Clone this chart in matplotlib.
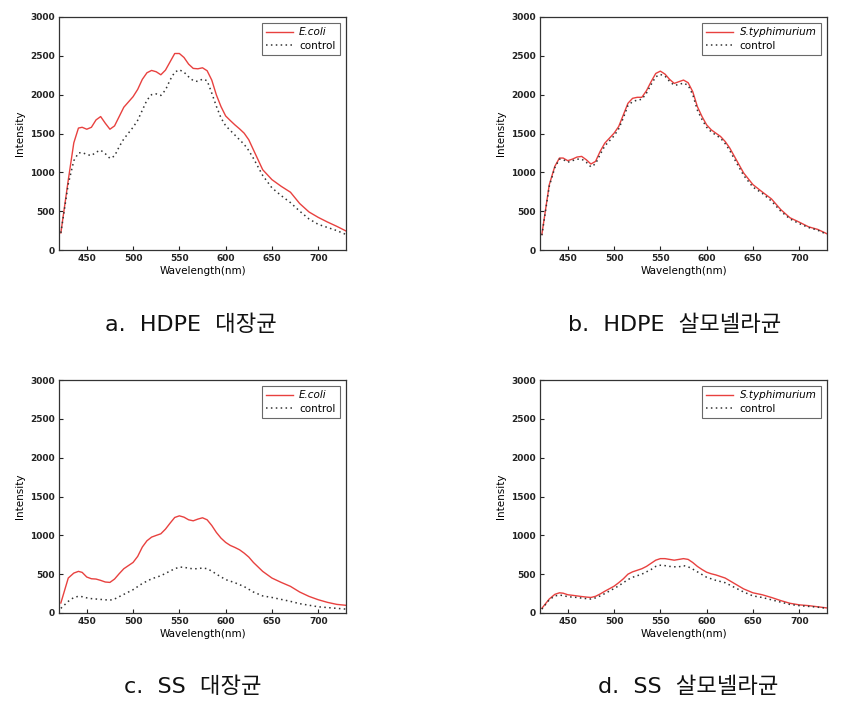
"""Four-panel fluorescence spectra: HDPE / SS surfaces with E.coli and S.typhimurium
against the uninoculated control."""
import matplotlib
matplotlib.use("Agg")
import matplotlib.pyplot as plt

# common wavelength grid (nm) the curves were read at
wavelength = [422, 430, 436, 441, 445, 450, 455, 460, 465, 470, 475, 480, 485, 490,
              500, 505, 510, 515, 520, 525, 530, 535, 540, 545, 550, 555, 560, 565,
              570, 575, 580, 585, 590, 595, 600, 605, 610, 615, 620, 625, 630, 640,
              650, 660, 670, 680, 690, 700, 710, 720, 730]

# a. HDPE, E.coli
hdpe_ecoli = [220, 900, 1380, 1570, 1580, 1555, 1580, 1675, 1718, 1632, 1555, 1598, 1718, 1838,
              1974, 2068, 2197, 2282, 2312, 2295, 2256, 2316, 2423, 2530, 2530, 2479, 2393, 2338,
              2333, 2346, 2308, 2188, 1996, 1846, 1726, 1667, 1611, 1560, 1504, 1419, 1290, 1034,
              906, 820, 744, 598, 490, 420, 360, 305, 245]
hdpe_ecoli_ctrl = [220, 850, 1150, 1250, 1255, 1230, 1215, 1260, 1285, 1240, 1180, 1210, 1330, 1430,
                   1580, 1670, 1800, 1930, 2000, 2010, 1990, 2060, 2190, 2290, 2320, 2290, 2230, 2180,
                   2170, 2200, 2180, 2020, 1850, 1700, 1600, 1540, 1480, 1420, 1360, 1280, 1180, 960,
                   800, 700, 610, 500, 400, 330, 290, 250, 200]

# b. HDPE, S.typhimurium
hdpe_styph = [200, 840, 1077, 1184, 1184, 1150, 1170, 1197, 1205, 1162, 1107, 1141, 1270, 1376,
              1504, 1590, 1739, 1889, 1953, 1966, 1966, 2051, 2167, 2273, 2303, 2265, 2197, 2145,
              2167, 2188, 2154, 2038, 1846, 1718, 1611, 1547, 1504, 1462, 1397, 1312, 1205, 991,
              842, 748, 658, 521, 415, 359, 299, 265, 209]
hdpe_styph_ctrl = [190, 820, 1060, 1170, 1165, 1130, 1150, 1170, 1170, 1130, 1070, 1110, 1230, 1340,
                   1470, 1560, 1700, 1860, 1910, 1930, 1940, 2020, 2130, 2230, 2260, 2240, 2170, 2120,
                   2130, 2150, 2120, 2000, 1800, 1680, 1580, 1520, 1480, 1440, 1370, 1280, 1170, 960,
                   810, 730, 630, 500, 400, 340, 290, 255, 200]

# c. SS, E.coli
ss_ecoli = [129, 450, 514, 536, 523, 463, 441, 437, 420, 399, 394, 437, 506, 570,
            651, 729, 849, 930, 977, 999, 1020, 1080, 1157, 1230, 1251, 1234, 1200, 1187,
            1209, 1226, 1200, 1127, 1037, 964, 909, 870, 844, 814, 771, 720, 651, 536,
            450, 394, 343, 270, 214, 171, 137, 111, 99]
ss_ecoli_ctrl = [60, 150, 200, 215, 210, 195, 185, 180, 175, 170, 165, 180, 210, 240,
                 300, 340, 380, 410, 440, 460, 480, 510, 540, 570, 590, 590, 575, 570,
                 570, 580, 570, 540, 500, 465, 430, 410, 390, 365, 340, 305, 270, 220,
                 200, 175, 150, 120, 100, 80, 70, 60, 50]

# d. SS, S.typhimurium
ss_styph = [60, 180, 240, 260, 255, 235, 228, 220, 212, 205, 200, 215, 245, 280,
            345, 390, 440, 500, 530, 550, 570, 600, 640, 680, 700, 700, 690, 680,
            690, 700, 690, 650, 600, 560, 525, 505, 490, 470, 450, 415, 380, 310,
            260, 235, 200, 160, 125, 105, 95, 80, 65]
ss_styph_ctrl = [50, 170, 220, 230, 225, 210, 205, 200, 192, 185, 180, 195, 220, 250,
                 315, 350, 390, 430, 460, 480, 500, 530, 560, 600, 615, 610, 600, 595,
                 595, 610, 595, 565, 530, 495, 460, 440, 420, 405, 390, 360, 330, 270,
                 220, 200, 170, 140, 110, 95, 85, 75, 60]

panels = [
    ("a.  HDPE  대장균", "E.coli", hdpe_ecoli, hdpe_ecoli_ctrl),
    ("b.  HDPE  살모넬라균", "S.typhimurium", hdpe_styph, hdpe_styph_ctrl),
    ("c.  SS  대장균", "E.coli", ss_ecoli, ss_ecoli_ctrl),
    ("d.  SS  살모넬라균", "S.typhimurium", ss_styph, ss_styph_ctrl),
]

W, H = 853, 711
# axes boxes in pixels: left, top, right, bottom
boxes = [(59, 17, 346, 250), (540, 17, 827, 250), (59, 380, 346, 613), (540, 380, 827, 613)]
caption_xy = [(191, 325), (675, 325), (193, 687), (688, 687)]

fig = plt.figure(figsize=(W / 100, H / 100), dpi=100)

for (cap, organism, y_bac, y_ctrl), (l, t, r, b), (cx, cy) in zip(panels, boxes, caption_xy):
    ax = fig.add_axes([l / W, 1 - b / H, (r - l) / W, (b - t) / H])
    ax.plot(wavelength, y_bac, color="#e8413f", lw=1.0, label=organism)
    ax.plot(wavelength, y_ctrl, color="#333333", lw=1.1, ls=(0, (1, 2.2)), label="control")
    ax.set_xlim(420, 730)
    ax.set_ylim(0, 3000)
    ax.set_xticks([450, 500, 550, 600, 650, 700])
    ax.set_yticks(range(0, 3001, 500))
    ax.tick_params(direction="in", length=3, width=0.8, labelsize=6.5, pad=3, colors="#222222")
    for lab in ax.get_xticklabels() + ax.get_yticklabels():
        lab.set_fontweight("bold")
    for s in ax.spines.values():
        s.set_linewidth(0.9)
        s.set_color("#333333")
    ax.set_xlabel("Wavelength(nm)", fontsize=7.5, labelpad=2)
    ax.set_ylabel("Intensity", fontsize=7.5, labelpad=4)
    leg = ax.legend(loc="upper right", fontsize=7.5, frameon=True, fancybox=False,
                    edgecolor="#444444", handlelength=2.6, borderpad=0.4,
                    labelspacing=0.3, borderaxespad=0.6, handletextpad=0.6)
    leg.get_frame().set_linewidth(0.8)
    leg.get_texts()[0].set_style("italic")
    # Latin from DejaVu (wide, like the source's Gulim), Hangul falls back to Noto CJK
    fig.text(cx / W, 1 - cy / H, cap, fontsize=16, ha="center", va="center",
             family=["DejaVu Sans", "Noto Sans CJK KR"], color="#111111")

fig.savefig("out.png", dpi=100)
